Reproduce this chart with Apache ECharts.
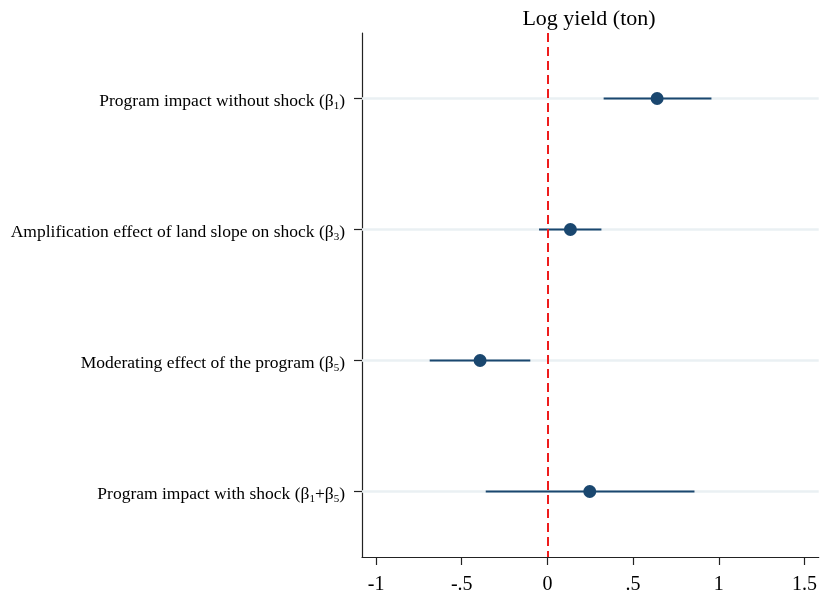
<!DOCTYPE html>
<html>
<head>
<meta charset="utf-8">
<script src="https://cdn.jsdelivr.net/npm/echarts@6/dist/echarts.min.js"></script>
<style>
  html, body { margin: 0; padding: 0; background: #fff; }
  #chart { width: 820px; height: 599px; }
</style>
</head>
<body>
<div id="chart"></div>
<script>
// rows, top to bottom
var categories = [
  "Program impact without shock",
  "Amplification effect of land slope on shock",
  "Moderating effect of the program",
  "Program impact with shock"
];
// subscripts of beta shown after each label
var betaSubs = [["1"], ["3"], ["5"], ["1", "5"]];
var estimates = [0.64, 0.134, -0.393, 0.247];
var ciLow = [0.328, -0.049, -0.687, -0.36];
var ciHigh = [0.957, 0.315, -0.1, 0.858];
var xTicks = [-1, -0.5, 0, 0.5, 1, 1.5];

var navy = "#1a476f";
var font = "'Liberation Serif', 'Times New Roman', serif";

var chart = echarts.init(document.getElementById("chart"));

function labelText(name) {
  var i = categories.indexOf(name);
  var parts = betaSubs[i].map(function (s) {
    return "{t|β}{s|" + s + "}";
  });
  return "{t|" + name + " (}" + parts.join("{t|+}") + "{t|)}";
}

var ciData = categories.map(function (c, i) {
  return [ciLow[i], ciHigh[i], c];
});
var pointData = categories.map(function (c, i) {
  return [estimates[i], c];
});

var option = {
  backgroundColor: "#fff",
  animation: false,
  title: {
    text: "Log yield (ton)",
    left: 584,
    textAlign: "center",
    top: 3,
    textStyle: {
      fontFamily: font,
      fontSize: 22,
      fontWeight: "normal",
      color: "#000"
    }
  },
  grid: {
    left: 362,
    right: 1,
    top: 33,
    bottom: 42
  },
  xAxis: {
    type: "value",
    min: -1.082,
    max: 1.583,
    splitLine: { show: false },
    axisLine: { show: true, lineStyle: { color: "#222", width: 1.2 } },
    axisTick: {
      show: true,
      length: 8,
      customValues: xTicks,
      lineStyle: { color: "#222", width: 1.2 }
    },
    axisLabel: {
      customValues: xTicks,
      margin: 18,
      fontFamily: font,
      fontSize: 20,
      color: "#000",
      formatter: function (v) {
        var s = String(Math.round(v * 10) / 10);
        return s.replace(/^(-?)0\./, "$1.");
      }
    }
  },
  yAxis: {
    type: "category",
    data: categories,
    inverse: true,
    boundaryGap: true,
    axisLine: { show: true, onZero: false, lineStyle: { color: "#222", width: 1.2 } },
    axisTick: {
      show: true,
      alignWithLabel: true,
      length: 8,
      lineStyle: { color: "#222", width: 1.2 }
    },
    splitLine: { show: false },
    axisLabel: {
      margin: 17,
      padding: [6, 0, 0, 0],
      formatter: labelText,
      rich: {
        t: { fontFamily: font, fontSize: 17.5, color: "#000", lineHeight: 22 },
        s: { fontFamily: font, fontSize: 11, color: "#000", padding: [10, 0, 0, 0] }
      }
    }
  },
  series: [
    {
      type: "custom",
      name: "ci",
      z: 3,
      data: ciData,
      encode: { x: [0, 1], y: 2 },
      renderItem: function (params, api) {
        var a = api.coord([api.value(0), api.value(2)]);
        var b = api.coord([api.value(1), api.value(2)]);
        return {
          type: "line",
          shape: { x1: a[0], y1: a[1], x2: b[0], y2: b[1] },
          style: { stroke: navy, lineWidth: 2 }
        };
      }
    },
    {
      type: "scatter",
      name: "estimate",
      z: 4,
      data: pointData,
      symbol: "circle",
      symbolSize: 13,
      itemStyle: { color: navy, opacity: 1 },
      markLine: {
        silent: true,
        symbol: "none",
        label: { show: false },
        z: 1,
        lineStyle: { color: "#eaf0f3", width: 2.5, type: "solid" },
        data: categories.map(function (c) {
          return { yAxis: c };
        })
      }
    },
    {
      type: "scatter",
      name: "zero",
      data: [],
      markLine: {
        silent: true,
        symbol: "none",
        label: { show: false },
        z: 5,
        lineStyle: { color: "#ee1c1c", width: 2, type: [9, 5] },
        data: [{ xAxis: 0 }]
      }
    }
  ]
};

chart.setOption(option);
</script>
</body>
</html>
